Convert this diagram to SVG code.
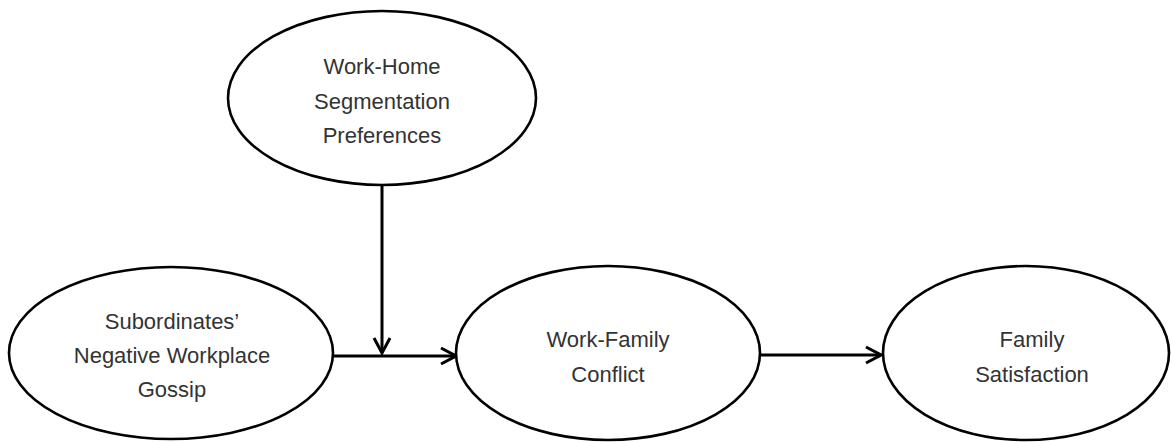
<svg xmlns="http://www.w3.org/2000/svg" width="1172" height="442" viewBox="0 0 1172 442">
<style>
.node ellipse{fill:#fff;stroke:#000;stroke-width:2.6}
.node text{font-family:"Liberation Sans",Arial,sans-serif;font-size:22px;fill:#333;text-anchor:middle}
.edge{stroke:#000;stroke-width:3;fill:none}
</style>
<defs>
<marker id="arr" markerUnits="userSpaceOnUse" viewBox="0 0 20 20" markerWidth="20" markerHeight="20" refX="18" refY="10" orient="auto">
<path d="M3,2 L18,10 L3,18" fill="none" stroke="#000" stroke-width="3" stroke-linejoin="miter"/>
</marker>
</defs>
<rect width="1172" height="442" fill="#fff"/>
<g id="connectors">
<line class="edge" x1="333" y1="356" x2="456" y2="356" marker-end="url(#arr)"/>
<line class="edge" x1="382" y1="185" x2="382" y2="353" marker-end="url(#arr)"/>
<line class="edge" x1="760" y1="355" x2="881" y2="355" marker-end="url(#arr)"/>
</g>
<g id="segmentation" class="node">
<ellipse cx="382" cy="98" rx="154" ry="87"/>
<text x="382" y="74">Work-Home</text>
<text x="382" y="109">Segmentation</text>
<text x="382" y="143">Preferences</text>
</g>
<g id="gossip" class="node">
<ellipse cx="171" cy="353" rx="162" ry="86"/>
<text x="172" y="329">Subordinates’</text>
<text x="172" y="363">Negative Workplace</text>
<text x="172" y="397">Gossip</text>
</g>
<g id="conflict" class="node">
<ellipse cx="608" cy="353" rx="152" ry="87"/>
<text x="608" y="347">Work-Family</text>
<text x="608" y="382">Conflict</text>
</g>
<g id="satisfaction" class="node">
<ellipse cx="1026" cy="353" rx="143" ry="87"/>
<text x="1032" y="347">Family</text>
<text x="1032" y="382">Satisfaction</text>
</g>
</svg>
